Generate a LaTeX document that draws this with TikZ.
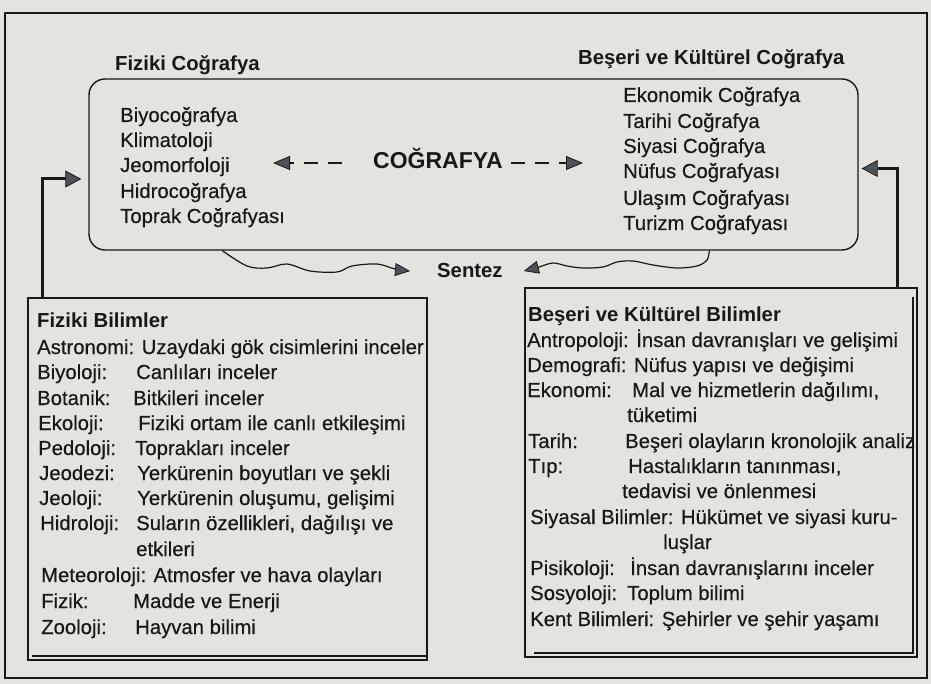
\documentclass[tikz,border=0pt]{standalone}
\usepackage{fontspec}
\setmainfont{Liberation Sans}
\newfontfamily\inkfont{Liberation Sans}[FakeBold=0.35]
\usetikzlibrary{arrows.meta}
\definecolor{bg}{RGB}{229,227,221}
\definecolor{ink}{RGB}{24,24,24}
\definecolor{headfill}{RGB}{80,82,90}
\begin{document}
\begin{tikzpicture}[x=1pt,y=-1pt,
  txt/.style={anchor=base west, inner sep=0pt, text=ink, font=\inkfont\fontsize{20.3}{24}\selectfont},
  btxt/.style={anchor=base west, inner sep=0pt, text=ink, font=\fontsize{20.3}{24}\selectfont\bfseries},
  bigtxt/.style={anchor=base west, inner sep=0pt, text=ink, font=\fontsize{23}{27}\selectfont\bfseries},
  frame/.style={draw=ink, line width=1.4pt, inner sep=0pt},
  elbow/.style={draw=ink, line width=3pt, -{Triangle[length=16pt,width=17pt,fill=headfill,line width=0.8pt]}},
  dsh/.style={draw=ink, line width=1.4pt, dash pattern=on 14pt off 10pt, -{Triangle[length=17pt,width=14pt,fill=headfill,line width=0.8pt]}},
  wave/.style={draw=ink, line width=1.2pt, -{Triangle[length=15pt,width=13pt,fill=headfill,line width=0.8pt]}},
  shadowline/.style={draw=ink, line width=2pt}
]
\fill[bg] (0,0) rectangle (931,684);
\useasboundingbox (0,0) rectangle (931,684);
% outer frame
\draw[ink, line width=2pt] (5,13) rectangle (927,678);

% central rounded box
\node[frame, rounded corners=16pt, minimum width=769pt, minimum height=171pt] (geo) at (473.5,164.5) {};

% bottom boxes
\node[frame, line width=1.3pt, minimum width=399pt, minimum height=362pt] (fb) at (227.5,479) {};
\draw[shadowline] ([xshift=5pt,yshift=5pt]fb.south west) -- ([yshift=5pt]fb.south east);
\node[frame, line width=1.3pt, minimum width=392pt, minimum height=369pt] (bb) at (721,472.5) {};
\draw[shadowline] ([xshift=10pt,yshift=5pt]bb.south west) -- ([xshift=-5pt,yshift=5pt]bb.south east) -- ([xshift=-5pt,yshift=-10pt]bb.north east);

% titles
\node[btxt] (tfc) at (115,71) {Fiziki Coğrafya};
\node[btxt] (tbk) at (578,65) {Beşeri ve Kültürel Coğrafya};

% left list
\node[txt] (l1) at (120,122) {Biyocoğrafya};
\node[txt] (l2) at (120,147) {Klimatoloji};
\node[txt] (l3) at (120,172) {Jeomorfoloji};
\node[txt] (l4) at (120,198) {Hidrocoğrafya};
\node[txt] (l5) at (120,223) {Toprak Coğrafyası};

% right list
\node[txt] (r1) at (623,102) {Ekonomik Coğrafya};
\node[txt] (r2) at (623,128) {Tarihi Coğrafya};
\node[txt] (r3) at (623,153) {Siyasi Coğrafya};
\node[txt] (r4) at (623,178) {Nüfus Coğrafyası};
\node[txt] (r5) at (623,205) {Ulaşım Coğrafyası};
\node[txt] (r6) at (623,230) {Turizm Coğrafyası};

% centre
\node[bigtxt] (cog) at (373,169) {COĞRAFYA};
\coordinate (dl) at (273,163);
\coordinate (dr) at (583,163);
\draw[dsh] ([xshift=-31pt]cog.west |- dl) -- (dl);
\draw[dsh] ([xshift=8pt]cog.east |- dr) -- (dr);

% Sentez
\node[btxt] (sen) at (437,278) {Sentez};
\draw[wave] plot[smooth, tension=0.55] coordinates {([xshift=134pt]geo.south west) (247,266) (267,268) (287,264) (310,271) (337,272) (352,266) (377,264) (395,269) ([xshift=-27pt]sen.west)};
\draw[wave] plot[smooth, tension=0.55] coordinates {([xshift=621pt]geo.south west) (707,260) (697,266) (677,268) (653,265) (633,261) (617,262) (603,267) (583,268) (567,266) (553,263) (539,267) ([xshift=21pt]sen.east)};

% elbow arrows
\draw[elbow] ([xshift=15pt]fb.north west) |- ([xshift=-7pt,yshift=-14.5pt]geo.west);
\draw[elbow] ([xshift=-20pt]bb.north east) |- ([xshift=3pt,yshift=-4pt]geo.east);

% left box text
\node[btxt] (fbt) at (37,327) {Fiziki Bilimler};
\node[txt] (f1) at (37,354) {Astronomi: Uzaydaki gök cisimlerini inceler};
\node[txt] (f2a) at (37,379) {Biyoloji:};
\node[txt] (f2b) at (136,379) {Canlıları inceler};
\node[txt] (f3a) at (37,405) {Botanik:};
\node[txt] (f3b) at (133,405) {Bitkileri inceler};
\node[txt] (f4a) at (38,430) {Ekoloji:};
\node[txt] (f4b) at (138,430) {Fiziki ortam ile canlı etkileşimi};
\node[txt] (f5a) at (38,455) {Pedoloji:};
\node[txt] (f5b) at (135,455) {Toprakları inceler};
\node[txt] (f6a) at (39,480) {Jeodezi:};
\node[txt] (f6b) at (137,480) {Yerkürenin boyutları ve şekli};
\node[txt] (f7a) at (39,505) {Jeoloji:};
\node[txt] (f7b) at (137,505) {Yerkürenin oluşumu, gelişimi};
\node[txt] (f8a) at (40,530) {Hidroloji:};
\node[txt] (f8b) at (136,530) {Suların özellikleri, dağılışı ve};
\node[txt] (f8c) at (136,556) {etkileri};
\node[txt] (f9) at (41,582) {Meteoroloji: Atmosfer ve hava olayları};
\node[txt] (f10a) at (41,608) {Fizik:};
\node[txt] (f10b) at (133,608) {Madde ve Enerji};
\node[txt] (f11a) at (41,634) {Zooloji:};
\node[txt] (f11b) at (135,634) {Hayvan bilimi};

% right box text
\node[btxt] (bbt) at (528,322) {Beşeri ve Kültürel Bilimler};
\node[txt] (b1) at (527,347) {Antropoloji: İnsan davranışları ve gelişimi};
\node[txt] (b2) at (527,372) {Demografi: Nüfus yapısı ve değişimi};
\node[txt] (b3a) at (527,397) {Ekonomi:};
\node[txt] (b3b) at (632,397) {Mal ve hizmetlerin dağılımı,};
\node[txt] (b3c) at (627,422) {tüketimi};
\node[txt] (b4a) at (528,448) {Tarih:};
\node[txt] (b4b) at (625,448) {Beşeri olayların kronolojik analiz};
\node[txt] (b5a) at (528,473) {Tıp:};
\node[txt] (b5b) at (628,473) {Hastalıkların tanınması,};
\node[txt] (b5c) at (622,498) {tedavisi ve önlenmesi};
\node[txt] (b6) at (530,524) {Siyasal Bilimler: Hükümet ve siyasi kuru-};
\node[txt] (b6c) at (663,549) {luşlar};
\node[txt] (b7a) at (530,575) {Pisikoloji:};
\node[txt] (b7b) at (630,575) {İnsan davranışlarını inceler};
\node[txt] (b8a) at (530,600) {Sosyoloji:};
\node[txt] (b8b) at (627,600) {Toplum bilimi};
\node[txt] (b9) at (530,626) {Kent Bilimleri: Şehirler ve şehir yaşamı};
\end{tikzpicture}
\end{document}
